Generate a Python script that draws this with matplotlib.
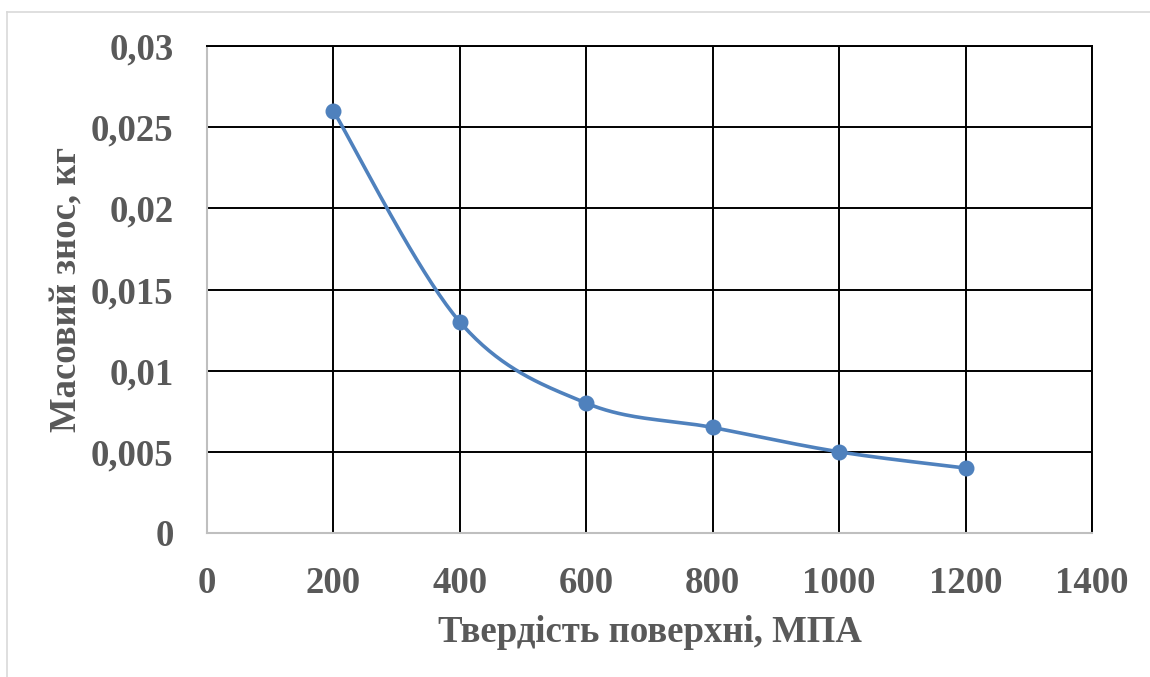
import numpy as np
import matplotlib
matplotlib.use("Agg")
import matplotlib.pyplot as plt
from matplotlib.lines import Line2D

# data
hardness = [200, 400, 600, 800, 1000, 1200]
wear = [0.026, 0.013, 0.008, 0.0065, 0.005, 0.004]

x_ticks = [0, 200, 400, 600, 800, 1000, 1200, 1400]
y_ticks = [0, 0.005, 0.01, 0.015, 0.02, 0.025, 0.03]
y_labels = ["0", "0,005", "0,01", "0,015", "0,02", "0,025", "0,03"]

x_title = "Твердість поверхні, МПА"
y_title = "Масовий знос, кг"

text_color = "#595959"
line_color = "#4f81bd"


def excel_smooth(xs, ys, n=40):
    # Excel-like smoothed line: cubic bezier with catmull-rom control points
    xs = np.asarray(xs, float)
    ys = np.asarray(ys, float)
    px, py = [], []
    for i in range(len(xs) - 1):
        x0, y0 = (xs[i - 1], ys[i - 1]) if i > 0 else (xs[i], ys[i])
        x1, y1 = xs[i], ys[i]
        x2, y2 = xs[i + 1], ys[i + 1]
        x3, y3 = (xs[i + 2], ys[i + 2]) if i + 2 < len(xs) else (x2, y2)
        c1x, c1y = x1 + (x2 - x0) / 6, y1 + (y2 - y0) / 6
        c2x, c2y = x2 - (x3 - x1) / 6, y2 - (y3 - y1) / 6
        t = np.linspace(0, 1, n)
        bx = (1 - t)**3 * x1 + 3 * (1 - t)**2 * t * c1x + 3 * (1 - t) * t**2 * c2x + t**3 * x2
        by = (1 - t)**3 * y1 + 3 * (1 - t)**2 * t * c1y + 3 * (1 - t) * t**2 * c2y + t**3 * y2
        px.extend(bx)
        py.extend(by)
    return px, py


plt.rcParams['font.family'] = ['Liberation Serif', 'DejaVu Serif']
plt.rcParams['font.weight'] = 'bold'

fig = plt.figure(figsize=(11.5, 6.77), dpi=100)
ax = fig.add_axes([207 / 1150, 1 - 533 / 677, (1092 - 207) / 1150, (533 - 46) / 677])

sx, sy = excel_smooth(hardness, wear)
ax.plot(sx, sy, color=line_color, lw=2.6, solid_capstyle='round', zorder=3)
ax.plot(hardness, wear, 'o', color=line_color, ms=10.5, zorder=4)

ax.set_xlim(0, 1400)
ax.set_ylim(0, 0.03)
ax.set_xticks(x_ticks)
ax.set_xticklabels([str(v) for v in x_ticks])
ax.set_yticks(y_ticks)
ax.set_yticklabels(y_labels)
ax.tick_params(length=0, labelsize=26.5, labelcolor=text_color)
ax.tick_params(axis='y', pad=24)
ax.tick_params(axis='x', pad=24)
ax.grid(True, color='black', lw=1.4)

for side in ['left', 'bottom']:
    ax.spines[side].set_color('#bfbfbf')
    ax.spines[side].set_linewidth(1.5)
for side in ['top', 'right']:
    ax.spines[side].set_color('black')
    ax.spines[side].set_linewidth(1.4)

ax.set_xlabel(x_title, fontsize=26.5, fontweight='bold', color=text_color, labelpad=10)
ax.set_ylabel(y_title, fontsize=26.5, fontweight='bold', color=text_color, labelpad=5)

# chart area border (only left and top edges are inside the image)
fig.add_artist(Line2D([6.5 / 1150, 6.5 / 1150], [0, 1 - 11.5 / 677],
                      transform=fig.transFigure, color='#d9d9d9', lw=1.2))
fig.add_artist(Line2D([6.5 / 1150, 1], [1 - 11.5 / 677, 1 - 11.5 / 677],
                      transform=fig.transFigure, color='#d9d9d9', lw=1.2))

fig.savefig("out.png", dpi=100)
